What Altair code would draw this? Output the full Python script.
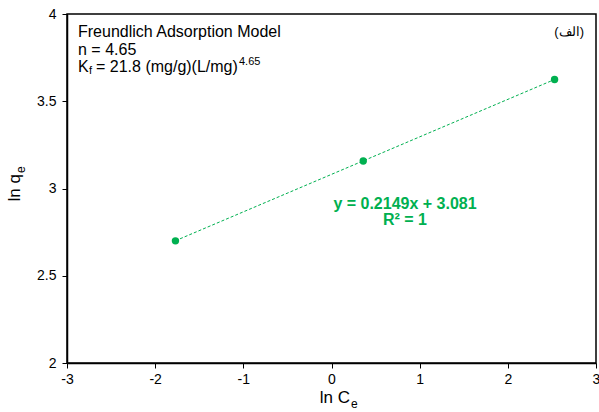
import altair as alt
import pandas as pd

ln_ce = [-1.77, 0.36, 2.53]
ln_qe = [2.70, 3.158, 3.625]
slope = 0.2149
intercept = 3.081

x_ticks = [-3, -2, -1, 0, 1, 2, 3]
y_ticks = [2, 2.5, 3, 3.5, 4]

GREEN = "#00B050"
W, H = 529, 349
FONT = "Liberation Sans"

pts = pd.DataFrame({"x": ln_ce, "y": ln_qe})
line_df = pd.DataFrame({"x": [ln_ce[0], ln_ce[-1]],
                        "y": [slope * ln_ce[0] + intercept, slope * ln_ce[-1] + intercept]})

xs = alt.Scale(domain=[-3, 3], nice=False, zero=False)
ys = alt.Scale(domain=[2, 4], nice=False, zero=False)

common = dict(title=None, grid=False, tickSize=5, labelFontSize=14, labelFont=FONT,
              labelColor="black", domainColor="black", tickColor="black",
              labelExpr="datum.value + ''", domainWidth=1.5, labelFlush=False,
              labelOverlap=False)
xax = alt.Axis(values=x_ticks, labelPadding=4, **common)
yax = alt.Axis(values=y_ticks, labelPadding=6, **common)

trend = alt.Chart(line_df).mark_line(color=GREEN, strokeDash=[3, 2], strokeWidth=1).encode(
    x=alt.X("x:Q", scale=xs, axis=xax), y=alt.Y("y:Q", scale=ys, axis=yax))
dots = alt.Chart(pts).mark_circle(color=GREEN, size=55, opacity=1).encode(
    x=alt.X("x:Q", scale=xs), y=alt.Y("y:Q", scale=ys))


def txt(text, x, y, size=16, align="left", bold=False, color="black", angle=0):
    kw = dict(text=text, fontSize=size, font=FONT, align=align, baseline="middle",
              color=color, fontWeight="bold" if bold else "normal")
    if angle:
        kw["angle"] = angle
    return alt.Chart(pd.DataFrame({"a": [0]})).mark_text(**kw).encode(
        x=alt.value(x), y=alt.value(y))


labels = [
    txt("Freundlich Adsorption Model", 11, 18),
    txt("n = 4.65", 11, 36),
    txt("K", 11, 53),
    txt("f", 22, 57, size=11),
    txt("= 21.8 (mg/g)(L/mg)", 29, 53),
    txt("4.65", 172, 48, size=11),
    txt("(الف)", 517, 18, size=13, align="right"),
    txt("y = 0.2149x + 3.081", 338, 190, bold=True, color=GREEN, align="center"),
    txt("R² = 1", 338, 206, bold=True, color=GREEN, align="center"),
    # axis titles
    txt("ln C", 283, 384, size=17, align="right"),
    txt("e", 284, 390, size=12),
    txt("ln q", -52, 160, size=17, align="right", angle=270),
    txt("e", -46, 159, size=12, angle=270),
]

chart = alt.layer(trend, dots, *labels).properties(
    width=W, height=H,
    autosize=alt.AutoSizeParams(type="none"),
    padding={"left": 67, "top": 14, "right": 3, "bottom": 49},
    background="white",
).configure_view(stroke="black", strokeWidth=1.5)

chart.save("out.html", embed_options={"renderer": "svg", "actions": False})
